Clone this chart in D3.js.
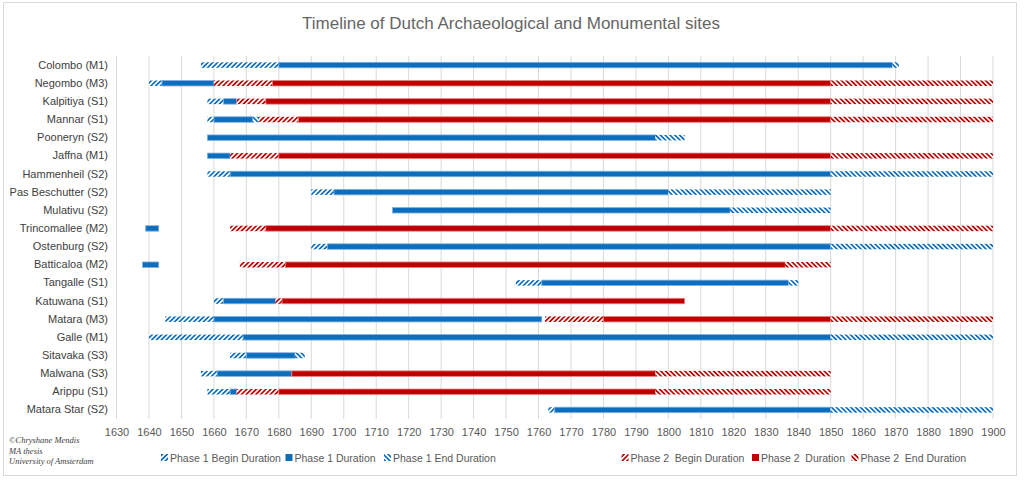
<!DOCTYPE html>
<html><head><meta charset="utf-8">
<script src="https://cdn.jsdelivr.net/npm/d3@7"></script>
<style>body{margin:0;background:#fff}svg{display:block}</style>
</head><body>
<svg id="c" width="1024" height="484"></svg>
<script>
const categories = ["Colombo (M1)","Negombo (M3)","Kalpitiya (S1)","Mannar (S1)","Pooneryn (S2)","Jaffna (M1)","Hammenheil (S2)","Pas Beschutter (S2)","Mulativu (S2)","Trincomallee (M2)","Ostenburg (S2)","Batticaloa (M2)","Tangalle (S1)","Katuwana (S1)","Matara (M3)","Galle (M1)","Sitavaka (S3)","Malwana (S3)","Arippu (S1)","Matara Star (S2)"];
const yearTicks = [1630,1640,1650,1660,1670,1680,1690,1700,1710,1720,1730,1740,1750,1760,1770,1780,1790,1800,1810,1820,1830,1840,1850,1860,1870,1880,1890,1900];
const p1Begin = [[1656,1680],[1640,1644],[1658,1663],[1658,1660],null,null,[1658,1665],[1690,1697],null,null,[1690,1695],null,[1753,1761],[1660,1663],[1645,1660],[1640,1669],[1665,1670],[1656,1661],[1658,1665],[1763,1765]];
const p1Dur = [[1680,1869],[1644,1660],[1663,1667],[1660,1672],[1658,1796],[1658,1665],[1665,1850],[1697,1800],[1715,1819],[1639,1643],[1695,1850],[1638,1643],[1761,1837],[1663,1679],[1660,1761],[1669,1850],[1670,1685],[1661,1684],[1665,1667],[1765,1850]];
const p1End = [[1869,1871],null,null,[1672,1674],[1796,1805],null,[1850,1900],[1800,1850],[1819,1850],null,[1850,1900],null,[1837,1840],null,null,[1850,1900],[1685,1688],null,null,[1850,1900]];
const p2Begin = [null,[1660,1678],[1667,1676],[1674,1686],null,[1665,1680],null,null,null,[1665,1676],null,[1668,1682],null,[1679,1681],[1762,1780],null,null,null,[1667,1680],null];
const p2Dur = [null,[1678,1850],[1676,1850],[1686,1850],null,[1680,1850],null,null,null,[1676,1850],null,[1682,1836],null,[1681,1805],[1780,1850],null,null,[1684,1796],[1680,1796],null];
const p2End = [null,[1850,1900],[1850,1900],[1850,1900],null,[1850,1900],null,null,null,[1850,1900],null,[1836,1850],null,null,[1850,1900],null,null,[1796,1850],[1796,1850],null];
const seriesNames = ["Phase 1 Begin Duration","Phase 1 Duration","Phase 1 End Duration","Phase 2  Begin Duration","Phase 2  Duration","Phase 2  End Duration"];

const BLUE = "#0E6EBE", RED = "#BF0000";
const series = [
  {name: seriesNames[0], data: p1Begin, color: BLUE, kind: "begin"},
  {name: seriesNames[1], data: p1Dur, color: BLUE, kind: "solid"},
  {name: seriesNames[2], data: p1End, color: BLUE, kind: "end"},
  {name: seriesNames[3], data: p2Begin, color: RED, kind: "begin"},
  {name: seriesNames[4], data: p2Dur, color: RED, kind: "solid"},
  {name: seriesNames[5], data: p2End, color: RED, kind: "end"}
];

const svg = d3.select("#c");
const FONT = "'Liberation Sans', Arial, sans-serif";

// frame
svg.append("rect").attr("x",3.5).attr("y",2.5).attr("width",1013).attr("height",473)
  .attr("fill","#fff").attr("stroke","#d9d9d9").attr("stroke-width",1);

// patterns
const defs = svg.append("defs");
function makePattern(id, color, angle){
  const p = defs.append("pattern").attr("id",id).attr("patternUnits","userSpaceOnUse")
    .attr("width",3.4).attr("height",3.4).attr("patternTransform",`rotate(${angle})`);
  p.append("rect").attr("width",3.4).attr("height",3.4).attr("fill","#fff");
  p.append("rect").attr("width",1.7).attr("height",3.4).attr("fill",color);
}
makePattern("pBlueBegin", BLUE, 45);
makePattern("pBlueEnd", BLUE, -45);
makePattern("pRedBegin", RED, 45);
makePattern("pRedEnd", RED, -45);
function fillFor(s){
  if (s.kind === "solid") return s.color;
  const c = s.color === BLUE ? "Blue" : "Red";
  return `url(#p${c}${s.kind === "begin" ? "Begin" : "End"})`;
}

const x = d3.scaleLinear().domain([1630,1900]).range([116.5,993]);
const y = d3.scaleBand().domain(categories).range([56,419]).paddingInner(0);

// title
svg.append("text").attr("x",511).attr("y",29).attr("text-anchor","middle")
  .attr("font-family",FONT).attr("font-size",17).attr("fill","#666666")
  .text("Timeline of Dutch Archaeological and Monumental sites");

// gridlines
svg.append("g").selectAll("line").data(yearTicks).join("line")
  .attr("x1",d=>x(d)).attr("x2",d=>x(d)).attr("y1",56).attr("y2",419)
  .attr("stroke","#d9d9d9").attr("stroke-width",1);

// x axis labels
const xAxis = d3.axisBottom(x).tickValues(yearTicks).tickSize(0).tickPadding(0).tickFormat(d3.format("d"));
const gx = svg.append("g").attr("transform","translate(0,428)").call(xAxis);
gx.select(".domain").remove();
gx.selectAll("text").attr("font-family",FONT).attr("font-size",11).attr("fill","#595959");

// y axis labels
const yAxis = d3.axisLeft(y).tickSize(0).tickPadding(0);
const gy = svg.append("g").attr("transform","translate(108,0)").call(yAxis);
gy.select(".domain").remove();
gy.selectAll("text").attr("font-family",FONT).attr("font-size",11).attr("fill","#404040");

// bars
const BH = 5.5;
series.forEach(s => {
  const rows = s.data.map((v,i)=>({v, cat: categories[i]})).filter(d=>d.v);
  svg.append("g").selectAll("rect").data(rows).join("rect")
    .attr("x",d=>x(d.v[0])).attr("width",d=>x(d.v[1])-x(d.v[0]))
    .attr("y",d=>y(d.cat)+y.bandwidth()/2-BH/2).attr("height",BH)
    .attr("fill",fillFor(s))
    .attr("stroke", s.kind==="solid" ? (s.color===BLUE ? "#7fb2e0" : "#e88080") : "none")
    .attr("stroke-width", s.kind==="solid" ? 0.8 : 0);
});

// legend
const legendX = [161,285.5,384,621.5,752,851.5];
const lg = svg.append("g");
series.forEach((s,i)=>{
  lg.append("rect").attr("x",legendX[i]).attr("y",454).attr("width",7).attr("height",7)
    .attr("fill",fillFor(s));
  lg.append("text").attr("x",legendX[i]+9).attr("y",461.5)
    .attr("font-family",FONT).attr("font-size",10.5).attr("fill","#595959")
    .style("white-space","pre").text(s.name);
});

// credits
const credits = ["©Chryshane Mendis","MA thesis","University of Amsterdam"];
svg.append("g").selectAll("text").data(credits).join("text")
  .attr("x",9).attr("y",(d,i)=>443+i*10.5)
  .attr("font-family","'Liberation Serif', serif").attr("font-style","italic")
  .attr("font-size",8.5).attr("fill","#404040").text(d=>d);
</script>
</body></html>
